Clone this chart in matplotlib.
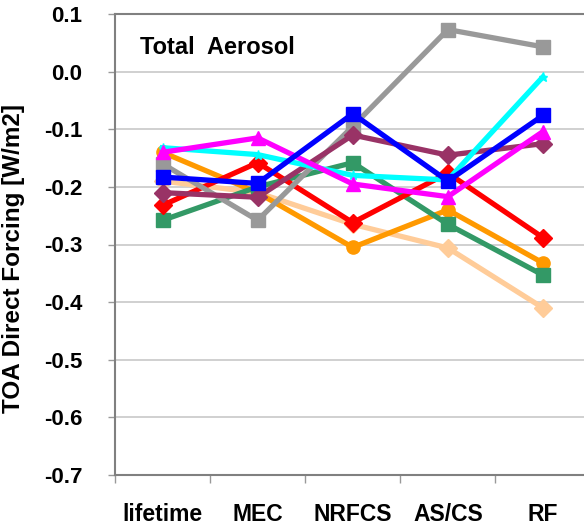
import matplotlib
matplotlib.use("Agg")
import matplotlib.pyplot as plt
from matplotlib.ticker import FixedLocator

plt.rcParams['font.family'] = ['Liberation Sans', 'DejaVu Sans']
plt.rcParams['font.weight'] = 'bold'

categories = ["lifetime", "MEC", "NRFCS", "AS/CS", "RF"]

peach   = [-0.19, -0.21, -0.265, -0.306, -0.410]
orange  = [-0.140, -0.21, -0.305, -0.240, -0.332]
green   = [-0.258, -0.200, -0.158, -0.265, -0.353]
red     = [-0.232, -0.158, -0.262, -0.176, -0.288]
gray    = [-0.160, -0.258, -0.095, 0.073, 0.043]
purple  = [-0.210, -0.218, -0.110, -0.145, -0.125]
cyan    = [-0.132, -0.144, -0.180, -0.188, -0.009]
magenta = [-0.140, -0.115, -0.195, -0.217, -0.104]
blue    = [-0.183, -0.194, -0.073, -0.190, -0.076]

yticks = [-0.7, -0.6, -0.5, -0.4, -0.3, -0.2, -0.1, 0.0, 0.1]
yticklabels = ["-0.7", "-0.6", "-0.5", "-0.4", "-0.3", "-0.2", "-0.1", "0.0", "0.1"]

series = [
    (peach, "#FFCC99", "D"),
    (orange, "#FF9900", "o"),
    (green, "#339966", "s"),
    (red, "#FF0000", "D"),
    (gray, "#999999", "s"),
    (purple, "#993366", "D"),
    (cyan, "#00FFFF", "*"),
    (magenta, "#FF00FF", "^"),
    (blue, "#0000FF", "s"),
]

fig = plt.figure(figsize=(5.84, 5.28), dpi=100)
ax = fig.add_axes([115/584, 53/528, 475.5/584, 461/528])

x = list(range(len(categories)))
for vals, col, mk in series:
    ms = 6.5 if mk == "*" else 9.5
    ax.plot(x, vals, color=col, marker=mk, lw=3.8, ms=ms, mec=col, mfc=col)

ax.set_xlim(-0.5, 4.5)
ax.set_ylim(-0.7, 0.1)
ax.set_yticks(yticks)
ax.set_yticklabels(yticklabels)
ax.grid(axis='y', color='#C8C8C8', lw=1.2)
ax.set_axisbelow(True)

ax.xaxis.set_major_locator(FixedLocator([-0.5, 0.5, 1.5, 2.5, 3.5, 4.5]))
ax.xaxis.set_major_formatter(plt.NullFormatter())
ax.xaxis.set_minor_locator(FixedLocator(x))
ax.set_xticklabels(categories, minor=True)
ax.tick_params(axis='x', which='major', direction='out', length=6, color='#999999', width=1)
ax.tick_params(axis='x', which='minor', length=0, pad=20, labelsize=16.5)
ax.tick_params(axis='y', direction='out', length=5, color='#999999', width=1, pad=18.5, labelsize=16)

for s in ax.spines.values():
    s.set_color('#808080')
    s.set_linewidth(1.5)

ax.set_ylabel("TOA Direct Forcing [W/m2]", fontsize=17.5, fontweight='bold')
ax.yaxis.set_label_coords(-0.19, 0.47)

ax.text(140, 528 - 47, "Total  Aerosol", transform=None, fontsize=17, fontweight='bold', va='center', ha='left')

fig.savefig("out.png", dpi=100)
